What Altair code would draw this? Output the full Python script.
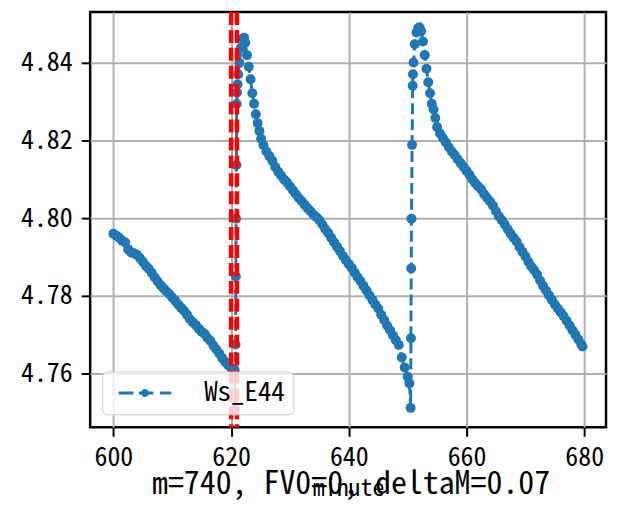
import altair as alt
import pandas as pd

# ---- data ----
minute = [
    600.0, 600.5, 601.0, 601.5, 602.0, 602.5, 603.0, 603.5, 604.0, 604.5,
    605.0, 605.5, 606.0, 606.5, 607.0, 607.5, 608.0, 608.5, 609.0, 609.5,
    610.0, 610.5, 611.0, 611.5, 612.0, 612.5, 613.0, 613.5, 614.0, 614.5,
    615.0, 615.5, 616.0, 616.5, 617.0, 617.5, 618.0, 618.5, 619.0, 619.5,
    620.0, 620.3, 620.6,
    620.7, 620.75, 620.8, 620.85, 620.9, 620.95, 621.0, 621.1, 621.2, 621.4,
    621.7, 622.0, 622.2, 622.4, 622.7, 623.0, 623.3, 623.6, 623.9, 624.2,
    624.5, 624.8, 625.1, 625.5, 626.0, 626.5, 627.0, 627.5, 628.0, 628.5,
    629.0, 629.5, 630.0, 630.5, 631.0, 631.5, 632.0, 632.5, 633.0, 633.5,
    634.0, 634.5, 635.0, 635.5, 636.0, 636.5, 637.0, 637.5, 638.0, 638.5,
    639.0, 639.5, 640.0, 640.5, 641.0, 641.5, 642.0, 642.5, 643.0, 643.5,
    644.0, 644.5, 645.0, 645.5, 646.0, 646.5, 647.0, 647.5, 648.0, 648.5,
    649.0, 649.5, 650.0, 650.3,
    650.5, 650.55, 650.6, 650.65, 650.75, 650.85, 650.9, 651.0, 651.2, 651.5,
    651.8, 652.0, 652.3, 652.6, 652.9, 653.2, 653.5, 653.8, 654.1, 654.4,
    654.7, 655.0, 655.5, 656.0, 656.5, 657.0, 657.5, 658.0, 658.5, 659.0,
    659.5, 660.0, 660.5, 661.0, 661.5, 662.0, 662.5, 663.0, 663.5, 664.0,
    664.5, 665.0, 665.5, 666.0, 666.5, 667.0, 667.5, 668.0, 668.5, 669.0,
    669.5, 670.0, 670.5, 671.0, 671.5, 672.0, 672.5, 673.0, 673.5, 674.0,
    674.5, 675.0, 675.5, 676.0, 676.5, 677.0, 677.5, 678.0, 678.5, 679.0,
    679.5, 679.7,
]
ws_e44 = [
    4.7960, 4.7955, 4.7950, 4.7942, 4.7938, 4.7920, 4.7912, 4.7910, 4.7906, 4.7898,
    4.7888, 4.7878, 4.7870, 4.7860, 4.7848, 4.7838, 4.7828, 4.7820, 4.7812, 4.7805,
    4.7796, 4.7788, 4.7778, 4.7770, 4.7762, 4.7752, 4.7740, 4.7732, 4.7725, 4.7716,
    4.7708, 4.7702, 4.7692, 4.7684, 4.7672, 4.7662, 4.7652, 4.7640, 4.7630, 4.7622,
    4.7615, 4.7612, 4.7610,
    4.7508, 4.7675, 4.7850, 4.7999, 4.8137, 4.8294, 4.8324, 4.8345, 4.8371, 4.8400,
    4.8440, 4.8462, 4.8465, 4.8452, 4.8420, 4.8390, 4.8358, 4.8322, 4.8295, 4.8268,
    4.8245, 4.8225, 4.8205, 4.8188, 4.8172, 4.8160, 4.8148, 4.8132, 4.8120, 4.8110,
    4.8100, 4.8092, 4.8082, 4.8072, 4.8062, 4.8052, 4.8044, 4.8035, 4.8026, 4.8018,
    4.8010, 4.8003, 4.7995, 4.7984, 4.7972, 4.7962, 4.7950, 4.7938, 4.7927, 4.7915,
    4.7903, 4.7892, 4.7882, 4.7872, 4.7860, 4.7848, 4.7838, 4.7826, 4.7814, 4.7802,
    4.7790, 4.7778, 4.7768, 4.7752, 4.7738, 4.7724, 4.7712, 4.7698, 4.7686, 4.7674,
    4.7642, 4.7616, 4.7592, 4.7575,
    4.7512, 4.7691, 4.7871, 4.7999, 4.8189, 4.8341, 4.8371, 4.8401, 4.8448, 4.8478,
    4.8490, 4.8492, 4.8482, 4.8455, 4.8420, 4.8385, 4.8350, 4.8322, 4.8295, 4.8280,
    4.8258, 4.8235, 4.8218, 4.8206, 4.8195, 4.8183, 4.8172, 4.8163, 4.8152, 4.8142,
    4.8132, 4.8122, 4.8112, 4.8100, 4.8090, 4.8082, 4.8074, 4.8062, 4.8052, 4.8043,
    4.8032, 4.8018, 4.8005, 4.7995, 4.7984, 4.7972, 4.7960, 4.7950, 4.7940, 4.7926,
    4.7914, 4.7902, 4.7888, 4.7876, 4.7866, 4.7855, 4.7840, 4.7826, 4.7814, 4.7802,
    4.7790, 4.7778, 4.7768, 4.7758, 4.7748, 4.7736, 4.7724, 4.7712, 4.7700, 4.7688,
    4.7675, 4.7670,
]
series_name = "Ws_E44"
red_lines = [620.0, 621.0]
x_ticks = [600, 620, 640, 660, 680]
y_ticks = [4.76, 4.78, 4.80, 4.82, 4.84]
x_title = "minute"
caption = "m=740, FV0=0, deltaM=0.07"

BLUE = "#1f77b4"
FONT = "Noto Sans Mono CJK SC, DejaVu Sans Mono"

df = pd.DataFrame({"minute": minute, "value": ws_e44, "series": series_name})
df_red = pd.DataFrame({"minute": red_lines})

x_enc = alt.X("minute:Q", scale=alt.Scale(domain=[596.05, 683.7], nice=False, zero=False),
              axis=alt.Axis(values=x_ticks, title=x_title, format="d"))
y_enc = alt.Y("value:Q", scale=alt.Scale(domain=[4.7462, 4.8531], nice=False, zero=False),
              axis=alt.Axis(values=y_ticks, title=None, format=".2f"))

# legend symbol: dashed line with a dot (filled path)
legend_path = ("M-2.944,-0.167H-1.278V0.167H-2.944Z "
               "M-0.667,-0.167H0.944V0.167H-0.667Z "
               "M1.667,-0.167H2.944V0.167H1.667Z "
               "M-0.444,0A0.444,0.444,0,1,1,0.444,0A0.444,0.444,0,1,1,-0.444,0Z")

line = alt.Chart(df).mark_line(color=BLUE, strokeWidth=3, strokeDash=[11, 5]).encode(
    x=x_enc, y=y_enc
)
pts = alt.Chart(df).mark_point(filled=True, size=100, opacity=1).encode(
    x=x_enc, y=y_enc,
    color=alt.Color("series:N", scale=alt.Scale(range=[BLUE]),
                    legend=alt.Legend(title=None, orient="none", legendX=12, legendY=361,
                                      symbolType=legend_path, symbolSize=324,
                                      symbolFillColor=BLUE, symbolStrokeWidth=0,
                                      symbolOffset=21.5, labelOffset=46,
                                      labelFont=FONT, labelFontSize=27, labelColor="black",
                                      padding=8, fillColor="rgba(255,255,255,0.8)",
                                      strokeColor="#cccccc", cornerRadius=5))
)
red = alt.Chart(df_red).mark_rule(color="red", strokeWidth=4.5, strokeDash=[13, 5]).encode(
    x=alt.X("minute:Q")
)

chart = alt.layer(line, pts, red).properties(
    width=518, height=417,
    padding={"left": 11.5, "top": 0, "right": 5, "bottom": 0},
    title=alt.TitleParams(caption, orient="bottom", anchor="middle", frame="group",
                          font=FONT, fontSize=32, fontWeight="normal", color="black",
                          offset=-31, dx=3),
).configure_view(stroke="black", strokeWidth=2.5).configure_axis(
    domain=False, tickColor="black", tickWidth=2, tickSize=9,
    grid=True, gridColor="#b0b0b0", gridWidth=2,
    labelFont=FONT, labelFontSize=26, labelColor="black", labelPadding=8,
    titleFont=FONT, titleFontSize=24, titleFontWeight="normal", titleColor="black",
    titlePadding=6,
).configure_axisY(minExtent=70, maxExtent=70, labelPadding=9)

chart.save("out.html", embed_options={"renderer": "svg", "actions": False})
